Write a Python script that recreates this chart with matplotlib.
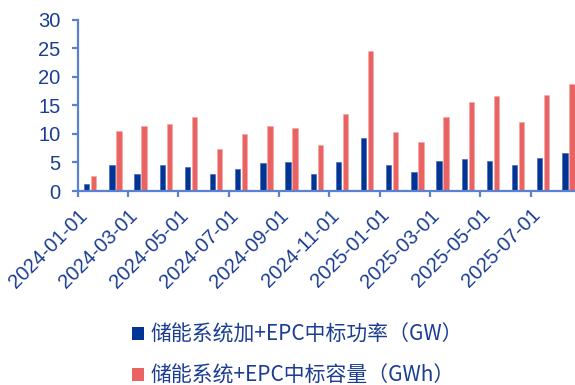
import matplotlib
matplotlib.use("Agg")
import matplotlib.pyplot as plt
from matplotlib.patches import Patch
from matplotlib.transforms import ScaledTranslation

plt.rcParams['font.family'] = ['Liberation Sans', 'Noto Sans CJK SC', 'DejaVu Sans']

months = ["2024-01-01", "2024-02-01", "2024-03-01", "2024-04-01", "2024-05-01",
          "2024-06-01", "2024-07-01", "2024-08-01", "2024-09-01", "2024-10-01",
          "2024-11-01", "2024-12-01", "2025-01-01", "2025-02-01", "2025-03-01",
          "2025-04-01", "2025-05-01", "2025-06-01", "2025-07-01", "2025-08-01"]
power_gw = [1.2, 4.5, 2.9, 4.6, 4.2, 3.0, 3.9, 4.9, 5.1, 3.0,
            5.0, 9.2, 4.6, 3.3, 5.3, 5.6, 5.2, 4.6, 5.8, 6.7]
capacity_gwh = [2.6, 10.5, 11.3, 11.8, 13.0, 7.3, 10.0, 11.3, 11.1, 8.0,
                13.4, 24.6, 10.3, 8.6, 12.9, 15.5, 16.6, 12.1, 16.8, 18.7]
labels = ["储能系统加+EPC中标功率（GW）", "储能系统+EPC中标容量（GWh）"]

blue = "#003595"
red = "#e86361"
axis_col = "#5b82d0"
text_col = "#1b3d92"

fig = plt.figure(figsize=(5.75, 3.85), dpi=100)
ax = fig.add_axes([77.7 / 575, 1 - 191 / 385, (581 - 77.7) / 575, (191 - 19.7) / 385])

x = [i + 0.5 for i in range(len(months))]
off = 0.14
w = 0.21
ax.bar([v - off for v in x], power_gw, width=w, color=blue, edgecolor="#3a5fb0", linewidth=0.4)
ax.bar([v + off for v in x], capacity_gwh, width=w, color=red, edgecolor="#f3a7a5", linewidth=0.4)

ax.set_xlim(0, len(months))
ax.set_ylim(0, 30)
ax.set_yticks(range(0, 31, 5))
ax.set_xticks(range(0, len(months), 2))
ax.set_xticklabels(months[::2], rotation=45, ha="right", rotation_mode="anchor")
shift = ScaledTranslation(10 / 100, 0, fig.dpi_scale_trans)
for lab in ax.get_xticklabels():
    lab.set_transform(lab.get_transform() + shift)

for s in ["top", "right"]:
    ax.spines[s].set_visible(False)
for s in ["left", "bottom"]:
    ax.spines[s].set_color(axis_col)
    ax.spines[s].set_linewidth(1.6)
ax.tick_params(axis="both", colors=axis_col, width=1.6, length=4.5,
               labelcolor=text_col, labelsize=14.5)
ax.tick_params(axis="x", pad=6)
ax.tick_params(axis="y", pad=8)

handles = [Patch(facecolor=blue), Patch(facecolor=red)]
fig.legend(handles, labels, loc="upper left", bbox_to_anchor=(113 / 575, 1 - 305 / 385),
           frameon=False, handlelength=0.6, handleheight=0.6, handletextpad=0.3,
           labelspacing=0.9, labelcolor=text_col,
           prop={"family": ["Noto Sans CJK SC", "DejaVu Sans"], "size": 15})

fig.savefig("out.png", dpi=100)
